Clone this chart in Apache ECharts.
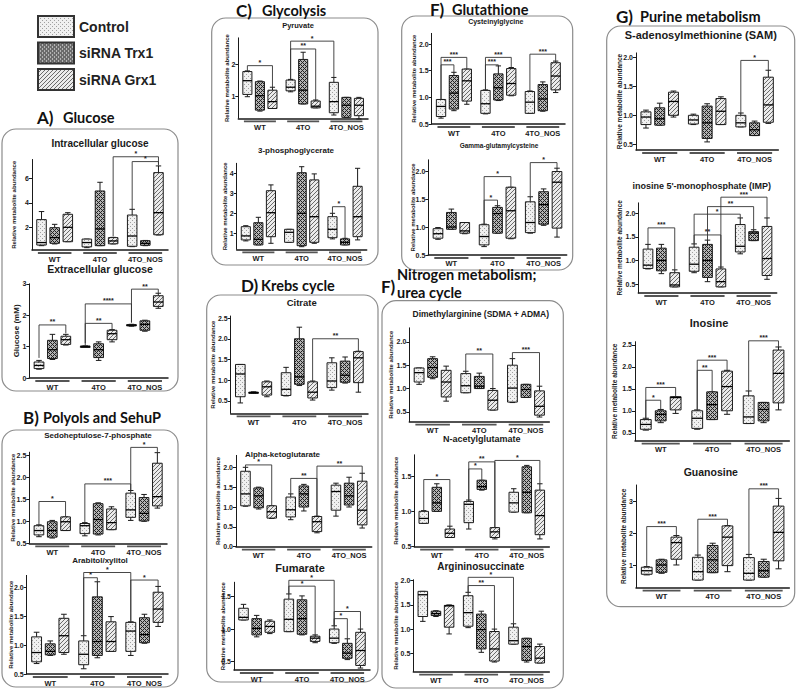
<!DOCTYPE html>
<html><head><meta charset="utf-8">
<script src="https://cdn.jsdelivr.net/npm/echarts@6/dist/echarts.min.js"></script>
<style>html,body{margin:0;padding:0;background:#fff}#c{width:796px;height:692px}</style>
</head><body><div id="c"></div>
<script>
// ---------------- DATA ----------------
const groups = ['WT', '4TO', '4TO_NOS'];
const treatments = ['Control', 'siRNA Trx1', 'siRNA Grx1'];
// rows: Control, siRNA Trx1, siRNA Grx1 ; each row: WT, 4TO, 4TO_NOS ; box = [min, q1, median, q3, max]
const intracellularGlucose = [
  [[0.55,0.6,0.8,2.65,3.3],[0.39,0.45,0.8,1.08,1.08],[0.47,0.5,1.33,3.02,3.48]],
  [[0.69,0.74,1.2,2.0,2.27],[0.55,0.55,1.9,4.96,5.66],[0.55,0.58,0.74,0.95,0.97]],
  [[0.87,0.87,2.03,3.08,3.21],[0.69,0.7,0.93,1.2,1.22],[1.41,1.43,3.21,6.44,6.98]]
];
const extracellularGlucose = [
  [[0.28,0.30,0.40,0.51,0.56],[0.99,1.0,1.01,1.01,1.02],[1.65,1.66,1.68,1.70,1.71]],
  [[0.59,0.62,0.9,1.2,1.39],[0.56,0.65,0.9,1.09,1.15],[1.49,1.52,1.71,1.82,1.84]],
  [[1.05,1.07,1.22,1.33,1.39],[1.15,1.22,1.41,1.52,1.54],[2.22,2.28,2.42,2.62,2.70]]
];
const sedoheptulose = [
  [[0.65,0.69,0.79,0.9,0.92],[0.67,0.72,0.9,0.95,0.97],[1.02,1.09,1.26,1.64,1.70]],
  [[0.62,0.64,0.79,0.99,1.02],[0.69,0.71,1.04,1.4,1.42],[1.0,1.01,1.18,1.54,1.61]],
  [[0.79,0.79,0.99,1.1,1.1],[0.81,0.81,0.97,1.28,1.33],[1.30,1.35,1.56,2.32,2.56]]
];
const arabitol = [
  [[0.68,0.71,0.87,1.14,1.22],[0.59,0.66,0.84,1.07,1.16],[0.82,0.89,1.24,1.39,1.40]],
  [[0.82,0.83,0.89,1.02,1.07],[0.78,0.82,1.06,1.83,2.09],[1.03,1.04,1.18,1.47,1.53]],
  [[0.84,0.87,1.16,1.46,1.53],[0.89,0.89,1.06,1.40,1.49],[1.32,1.39,1.62,1.91,2.01]]
];
const pyruvate = [
  [[1.0,1.07,1.49,1.77,1.79],[1.15,1.18,1.29,1.51,1.53],[0.44,0.51,0.85,1.44,1.59]],
  [[0.56,0.59,1.03,1.46,1.48],[0.78,0.78,1.2,2.14,2.36],[0.37,0.37,0.74,0.98,0.98]],
  [[0.64,0.64,0.85,1.2,1.29],[0.66,0.66,0.71,0.87,0.9],[0.32,0.42,0.74,0.95,0.98]]
];
const phosphoglycerate = [
  [[0.62,0.67,0.87,1.33,1.38],[0.55,0.55,1.05,1.2,1.2],[0.72,0.78,1.2,1.83,2.0]],
  [[0.42,0.42,0.7,1.53,1.8],[0.33,0.38,2.0,4.03,4.33],[0.42,0.42,0.55,0.72,0.75]],
  [[0.5,0.83,2.03,3.13,3.42],[0.5,0.55,1.83,3.67,3.97],[0.67,0.83,1.83,3.35,4.25]]
];
const citrate = [
  [[0.45,0.6,1.15,1.38,1.38],[0.62,0.63,0.78,1.18,1.31],[0.76,0.82,0.98,1.42,1.54]],
  [[0.68,0.69,0.7,0.71,0.72],[0.87,0.9,1.08,2.0,2.28],[0.93,0.95,1.12,1.46,1.56]],
  [[0.6,0.64,0.84,0.96,0.98],[0.52,0.57,0.71,0.96,0.98],[0.71,0.94,1.54,1.69,1.70]]
];
const alphaKetoglutarate = [
  [[1.02,1.03,1.33,1.9,2.0],[0.68,0.75,0.93,1.25,1.33],[0.77,0.92,1.39,1.55,1.6]],
  [[0.95,0.98,1.28,1.48,1.5],[0.9,1.0,1.33,1.53,1.57],[1.0,1.05,1.28,1.6,1.75]],
  [[0.71,0.72,0.88,1.03,1.03],[0.35,0.38,0.63,0.76,0.77],[0.47,0.55,0.92,1.65,1.85]]
];
const fumarate = [
  [[1.14,1.14,1.18,1.32,1.38],[0.96,0.96,1.15,1.46,1.54],[0.78,0.79,0.86,1.0,1.05]],
  [[0.88,0.91,1.01,1.16,1.21],[0.91,0.92,1.16,1.45,1.51],[0.53,0.55,0.63,0.78,0.85]],
  [[0.93,0.95,1.04,1.12,1.14],[0.79,0.81,0.86,0.89,0.91],[0.40,0.44,0.67,0.95,1.0]]
];
const cysteinylglycine = [
  [[0.61,0.64,0.83,0.96,0.96],[0.69,0.70,0.88,1.13,1.14],[0.70,0.70,0.91,1.11,1.12]],
  [[0.75,0.78,1.08,1.41,1.47],[0.94,0.95,1.18,1.44,1.59],[0.74,0.75,0.97,1.24,1.29]],
  [[0.87,0.93,1.31,1.53,1.53],[1.03,1.04,1.26,1.54,1.56],[1.09,1.14,1.4,1.65,1.68]]
];
const gammaGlutamylcysteine = [
  [[0.78,0.80,0.88,0.97,0.99],[0.65,0.68,0.83,1.04,1.05],[0.89,0.9,1.08,1.45,1.54]],
  [[0.96,0.96,1.0,1.26,1.32],[0.89,0.89,1.24,1.35,1.38],[1.03,1.05,1.4,1.63,1.68]],
  [[0.88,0.89,0.93,1.08,1.08],[0.79,0.8,1.29,1.71,1.71],[0.82,0.98,1.80,1.99,2.05]]
];
const dimethylarginine = [
  [[1.09,1.14,1.34,1.44,1.44],[0.91,0.91,1.06,1.32,1.37],[0.70,0.71,1.01,1.5,1.64]],
  [[1.21,1.24,1.45,1.64,1.68],[1.0,1.0,1.05,1.26,1.33],[0.81,0.81,0.98,1.09,1.09]],
  [[0.73,0.82,1.14,1.39,1.48],[0.54,0.54,0.75,0.96,1.0],[0.39,0.43,0.62,0.95,1.05]]
];
const nAcetylglutamate = [
  [[0.83,0.83,0.9,1.0,1.01],[0.75,0.84,1.1,1.14,1.16],[0.99,0.99,1.12,1.27,1.32]],
  [[1.0,1.0,1.12,1.34,1.39],[1.30,1.31,1.35,1.44,1.44],[0.98,0.98,1.27,1.63,1.65]],
  [[0.63,0.63,0.69,0.75,0.79],[0.61,0.63,0.71,0.77,0.77],[0.61,0.67,0.94,1.30,1.39]]
];
const argininosuccinate = [
  [[1.16,1.26,1.71,1.78,1.78],[1.03,1.06,1.34,1.69,1.76],[0.69,0.69,0.76,1.04,1.11]],
  [[1.26,1.28,1.32,1.37,1.38],[0.52,0.59,0.99,1.31,1.37],[0.32,0.35,0.64,0.81,0.81]],
  [[0.9,1.04,1.48,1.49,1.5],[0.32,0.34,0.59,0.95,1.0],[0.3,0.3,0.40,0.64,0.69]]
];
const sam = [
  [[0.78,0.84,0.97,1.06,1.09],[0.84,0.85,0.92,1.0,1.02],[0.8,0.8,0.87,1.0,1.04]],
  [[0.83,0.83,0.94,1.13,1.21],[0.54,0.6,0.87,1.16,1.2],[0.65,0.65,0.75,0.87,0.9]],
  [[0.97,1.0,1.24,1.40,1.42],[0.84,0.84,1.07,1.29,1.32],[0.86,0.88,1.18,1.66,1.78]]
];
const imp = [
  [[0.82,0.83,0.9,1.24,1.34],[0.74,0.77,0.92,1.28,1.35],[1.14,1.18,1.3,1.76,1.90]],
  [[0.72,0.78,1.0,1.26,1.34],[0.55,0.64,1.0,1.34,1.43],[1.42,1.42,1.58,1.61,1.65]],
  [[0.44,0.44,0.48,0.74,0.80],[0.44,0.44,0.55,0.82,0.86],[0.6,0.68,1.04,1.72,1.90]]
];
const inosine = [
  [[0.56,0.58,0.69,0.80,0.83],[0.58,0.6,0.83,1.0,1.02],[0.71,0.71,0.86,1.34,1.45]],
  [[0.73,0.77,0.92,1.0,1.03],[0.8,0.8,1.14,1.43,1.43],[0.73,0.77,1.03,1.19,1.19]],
  [[0.94,1.02,1.30,1.32,1.32],[0.92,1.0,1.55,1.9,1.92],[1.02,1.18,1.85,2.38,2.45]]
];
const guanosine = [
  [[0.71,0.73,0.84,0.95,0.97],[0.55,0.55,0.81,1.26,1.33],[0.55,0.55,0.76,1.25,1.35]],
  [[0.76,0.79,1.02,1.18,1.2],[0.78,0.78,1.18,1.63,1.7],[0.64,0.64,0.84,1.13,1.2]],
  [[1.02,1.2,1.72,1.89,1.94],[0.81,1.0,1.89,2.24,2.25],[0.9,1.15,2.04,2.86,3.1]]
];

// significance brackets: [group1, treatment1, group2, treatment2, top, leftEnd, rightEnd, label]
const intracellularGlucoseSig = [[1,2,2,2,7.72,1.3,7.1,'*'],[2,0,2,2,7.33,3.5,7.0,'*']];
const extracellularGlucoseSig = [[0,0,0,2,1.69,0.64,1.42,'**'],[1,0,1,2,1.74,1.11,1.56,'**'],[1,0,2,0,2.36,1.02,1.76,'****'],[2,0,2,2,2.83,1.78,2.70,'**']];
const sedoheptuloseSig = [[0,0,0,2,1.45,0.92,1.1,'*'],[1,0,2,0,1.85,0.97,1.70,'***'],[2,0,2,2,2.68,1.70,2.56,'*']];
const arabitolSig = [[1,0,2,0,2.25,1.16,1.40,'*'],[1,0,1,1,2.16,1.16,2.09,'*'],[2,0,2,2,2.12,1.40,2.01,'*']];
const pyruvateSig = [[0,0,0,2,1.95,1.79,1.29,'*'],[1,0,1,2,2.46,1.53,0.9,'**'],[1,0,2,0,2.70,1.53,1.59,'*']];
const phosphoglycerateSig = [[2,0,2,1,2.33,2.0,0.75,'*']];
const citrateSig = [[1,2,2,2,2.0,0.98,1.70,'**']];
const alphaKetoglutarateSig = [[0,0,0,2,2.06,2.0,1.03,'*'],[1,0,1,2,1.72,1.33,0.77,'**'],[1,2,2,2,2.03,0.77,1.85,'**']];
const fumarateSig = [[1,0,2,0,1.75,1.54,1.05,'*'],[1,0,1,2,1.66,1.54,0.91,'*'],[2,0,2,2,1.27,1.05,1.0,'*'],[2,0,2,1,1.16,1.05,0.85,'*']];
const cysteinylglycineSig = [[0,0,0,2,1.75,0.96,1.53,'***'],[0,0,0,1,1.61,0.96,1.47,'***'],[1,0,1,2,1.75,1.14,1.56,'***'],[1,0,1,1,1.61,1.14,1.59,'***'],[2,0,2,2,1.81,1.12,1.68,'***']];
const gammaGlutamylcysteineSig = [[1,0,1,2,1.90,1.05,1.71,'*'],[1,0,1,1,1.48,1.05,1.38,'*'],[2,0,2,2,2.15,1.54,2.05,'*']];
const dimethylarginineSig = [[1,0,1,2,1.74,1.37,1.0,'**'],[2,0,2,2,1.77,1.64,1.05,'***']];
const nAcetylglutamateSig = [[0,0,0,2,1.45,1.01,0.79,'*'],[1,0,1,1,1.60,1.16,1.44,'*'],[1,0,1,2,1.70,1.16,0.77,'**'],[1,2,2,2,1.72,0.77,1.39,'*']];
const argininosuccinateSig = [[1,0,1,2,1.90,1.76,1.0,'**'],[1,0,2,0,2.07,1.76,1.11,'*']];
const samSig = [[2,0,2,2,1.95,1.04,1.78,'*']];
const impSig = [[0,0,0,2,1.69,1.34,0.8,'***'],[1,0,1,2,1.54,1.35,0.86,'**'],[1,0,2,0,1.98,1.35,1.90,'*'],[1,1,2,1,2.14,1.43,1.65,'**'],[1,2,2,2,2.34,0.86,1.90,'***']];
const inosineSig = [[0,0,0,1,1.24,0.83,1.03,'*'],[0,0,0,2,1.53,0.83,1.32,'***'],[1,0,1,1,1.92,1.02,1.43,'**'],[1,0,1,2,2.15,1.02,1.92,'***'],[2,0,2,2,2.59,1.45,2.45,'***']];
const guanosineSig = [[0,0,0,2,2.22,0.97,1.94,'***'],[1,0,1,2,2.45,1.33,2.25,'***'],[2,0,2,2,3.40,1.35,3.10,'***']];

// y-axis tick labels
const ticksIntra = [2,4,6];
const ticksExtra = [0,1,2,3];
const ticksSedo = [0.5,1.0,1.5,2.0,2.5];
const ticksArab = [0.5,1.0,1.5,2.0];
const ticksPyr = [1,2];
const ticks3PG = [1,2,3,4];
const ticksCit = [0.5,1.0,1.5,2.0,2.5];
const ticksAKG = [0.0,0.5,1.0,1.5,2.0];
const ticksFum = [0.5,1.0,1.5];
const ticksCys = [0.5,1.0,1.5,2.0];
const ticksGGC = [0.5,1.0,1.5,2.0];
const ticksDMA = [0.5,1.0,1.5,2.0];
const ticksNAG = [0.5,1.0,1.5];
const ticksASA = [0.5,1.0,1.5,2.0];
const ticksSAM = [0.5,1.0,1.5,2.0];
const ticksIMP = [0.5,1.0,1.5,2.0];
const ticksIno = [0.5,1.0,1.5,2.0,2.5];
const ticksGua = [1,2,3];

// ---------------- LAYOUT ----------------
const REL = 'Relative metabolite abundance';
const panels = [
 {d:intracellularGlucose, s:intracellularGlucoseSig, t:ticksIntra, title:'Intracellular glucose', tx:100, ty:143.5, ts:10, x0:32, x1:168, bot:250, ppu:12.4, min:0.2, max:7.5, dec:0, yn:REL, gap:15, ns:6},
 {d:extracellularGlucose, s:extracellularGlucoseSig, t:ticksExtra, title:'Extracellular glucose', tx:100, ty:269, ts:10.5, x0:29.3, x1:168, bot:378, ppu:31.4, min:0, max:3, dec:0, yn:'Glucose (mM)', gap:9, ns:8},
 {d:sedoheptulose, s:sedoheptuloseSig, t:ticksSedo, title:'Sedoheptulose-7-phosphate', tx:98, ty:435, ts:8, x0:29.3, x1:167, bot:543.3, ppu:44, min:0.5, max:2.57, dec:1, yn:REL, gap:13, ns:6},
 {d:arabitol, s:arabitolSig, t:ticksArab, title:'Arabitol/xylitol', tx:100, ty:560, ts:8, x0:26.7, x1:168, bot:674, ppu:58, min:0.5, max:2.2, dec:1, yn:REL, gap:12.7, ns:6},
 {d:pyruvate, s:pyruvateSig, t:ticksPyr, title:'Pyruvate', tx:298, ty:25, ts:7.5, x0:238.3, x1:368, bot:118.3, ppu:32.7, min:0.34, max:2.8, dec:0, yn:REL, gap:8, ns:6},
 {d:phosphoglycerate, s:phosphoglycerateSig, t:ticks3PG, title:'3-phosphoglycerate', tx:296, ty:150, ts:8, x0:236.7, x1:366.7, bot:249.3, ppu:20, min:0.2, max:4.5, dec:0, yn:REL, gap:8.7, ns:6},
 {d:citrate, s:citrateSig, t:ticksCit, title:'Citrate', tx:301.7, ty:302.3, ts:9.5, x0:230.7, x1:368, bot:413.3, ppu:41.4, min:0.2, max:2.55, dec:1, yn:REL, gap:15, ns:6},
 {d:alphaKetoglutarate, s:alphaKetoglutarateSig, t:ticksAKG, title:'Alpha-ketoglutarate', tx:282.5, ty:454, ts:8, x0:236, x1:371.7, bot:546.7, ppu:39.7, min:0, max:2.3, dec:1, yn:REL, gap:14.7, ns:6},
 {d:fumarate, s:fumarateSig, t:ticksFum, title:'Fumarate', tx:300, ty:568.3, ts:11, x0:234, x1:370, bot:670, ppu:65, min:0.37, max:1.72, dec:1, yn:REL, gap:8.3, ns:6},
 {d:cysteinylglycine, s:cysteinylglycineSig, t:ticksCys, title:'Cysteinylglycine', tx:495.8, ty:21.5, ts:7, x0:431.7, x1:565, bot:124, ppu:53.3, min:0.5, max:2.2, dec:1, yn:REL, gap:14.4, ns:6},
 {d:gammaGlutamylcysteine, s:gammaGlutamylcysteineSig, t:ticksGGC, title:'Gamma-glutamylcysteine', tx:499, ty:145, ts:6.5, x0:428.3, x1:566.7, bot:255, ppu:56, min:0.5, max:2.2, dec:1, yn:REL, gap:12.6, ns:6, lm:4},
 {d:dimethylarginine, s:dimethylarginineSig, t:ticksDMA, title:'Dimethylarginine (SDMA + ADMA)', tx:480.8, ty:314, ts:8.5, x0:409.3, x1:549.3, bot:421.7, ppu:46.7, min:0.29, max:2.3, dec:1, yn:REL, gap:15.3, ns:6},
 {d:nAcetylglutamate, s:nAcetylglutamateSig, t:ticksNAG, title:'N-acetylglutamate', tx:481.7, ty:439.3, ts:9, x0:414.3, x1:549.3, bot:546.7, ppu:70.7, min:0.5, max:1.8, dec:1, yn:REL, gap:15.3, ns:6},
 {d:argininosuccinate, s:argininosuccinateSig, t:ticksASA, title:'Argininosuccinate', tx:480.8, ty:566.5, ts:10, x0:413.3, x1:549.3, bot:671.7, ppu:48.4, min:0.12, max:2.02, dec:1, yn:REL, gap:14.3, ns:6},
 {d:sam, s:samSig, t:ticksSAM, title:'S-adenosylmethionine (SAM)', tx:700.8, ty:35, ts:11, x0:636, x1:778.3, bot:150, ppu:57.8, min:0.4, max:2.08, dec:1, yn:REL, gap:12.7, ns:6.5},
 {d:imp, s:impSig, t:ticksIMP, title:"inosine 5'-monophosphate (IMP)", tx:701.7, ty:185.5, ts:9, x0:638.3, x1:776.7, bot:293, ppu:47.2, min:0.31, max:2.22, dec:1, yn:REL, gap:15, ns:6.5},
 {d:inosine, s:inosineSig, t:ticksIno, title:'Inosine', tx:709, ty:323.3, ts:11, x0:635, x1:789.3, bot:440.7, ppu:44, min:0.32, max:2.57, dec:1, yn:REL, gap:16.7, ns:6.5},
 {d:guanosine, s:guanosineSig, t:ticksGua, title:'Guanosine', tx:710.8, ty:471.7, ts:10.5, x0:636, x1:789.3, bot:587.7, ppu:32, min:0.31, max:3.52, dec:0, yn:REL, gap:9.3, ns:6.5}
];
const headings = [
 {x:37, y:117, letter:'A)', lines:[{t:'Glucose', x:63, y:117}]},
 {x:23, y:417, letter:'B)', lines:[{t:'Polyols and SehuP', x:43, y:417}]},
 {x:236, y:10.5, letter:'C)', lines:[{t:'Glycolysis', x:262, y:10.5}]},
 {x:241, y:285.5, letter:'D)', lines:[{t:'Krebs cycle', x:261, y:285.5}]},
 {x:430, y:9, letter:'F)', lines:[{t:'Glutathione', x:452, y:9}]},
 {x:381, y:286, letter:'F)', lines:[{t:'Nitrogen metabolism;', x:397, y:274.5}, {t:'urea cycle', x:397, y:292.5}]},
 {x:616, y:16.5, letter:'G)', lines:[{t:'Purine metabolism', x:640, y:16.5}]}
];
const frames = [[2,129,176,262],[2,430,176,257],[211.7,18,166.3,247],[206.7,295,171.3,387],[401.7,16,171,254],[382,300.7,181.3,387.3],[606.7,26,188,580.7]];

const SLOT = 0.29, BOXW = 0.21, CAPW = 0.12;
const INK = '#1a1a1a';
const FONT = '"Liberation Sans", Arial, sans-serif';
const HFONT = 'Lato, "Liberation Sans", sans-serif';

function makePattern(kind){
  const n = 4;
  const c = document.createElement('canvas'); c.width = n; c.height = n;
  const ctx = c.getContext('2d');
  if (kind === 0) {
    ctx.fillStyle = '#f0f0f0'; ctx.fillRect(0,0,n,n);
    ctx.fillStyle = '#a0a0a0'; ctx.fillRect(0,0,1,1); ctx.fillRect(2,2,1,1);
  } else if (kind === 1) {
    ctx.fillStyle = '#b4b4b4'; ctx.fillRect(0,0,n,n);
    ctx.fillStyle = '#222';
    for (let x=0;x<n;x++) for (let y=0;y<n;y++) if ((x+y)%4===0 || ((x-y)%4+4)%4===0) ctx.fillRect(x,y,1,1);
  } else {
    ctx.fillStyle = '#ebebeb'; ctx.fillRect(0,0,n,n);
    ctx.fillStyle = '#6a6a6a';
    for (let x=0;x<n;x++) for (let y=0;y<n;y++) if ((x+y)%4===3) ctx.fillRect(x,y,1,1);
  }
  return {image: c, repeat: 'repeat', imageWidth: n, imageHeight: n};
}
const PAT = [makePattern(0), makePattern(1), makePattern(2)];

function boxRender(t){
  return function(params, api){
    const g = api.value(0);
    const bw = api.size([1,0])[0];
    const cx = api.coord([g,0])[0] + (t-1)*SLOT*bw;
    const w = BOXW*bw, cap = CAPW*bw;
    const Y = i => api.coord([g, api.value(i)])[1];
    const yMin=Y(1), yQ1=Y(2), yMed=Y(3), yQ3=Y(4), yMax=Y(5);
    const ls = {stroke: INK, lineWidth: 1};
    return {type:'group', children:[
      {type:'line', shape:{x1:cx,y1:yQ3,x2:cx,y2:yMax}, style:ls},
      {type:'line', shape:{x1:cx-cap/2,y1:yMax,x2:cx+cap/2,y2:yMax}, style:ls},
      {type:'line', shape:{x1:cx,y1:yQ1,x2:cx,y2:yMin}, style:ls},
      {type:'line', shape:{x1:cx-cap/2,y1:yMin,x2:cx+cap/2,y2:yMin}, style:ls},
      {type:'rect', shape:{x:cx-w/2,y:yQ3,width:w,height:Math.max(yQ1-yQ3,1.2)}, style:{fill:PAT[t], stroke:INK, lineWidth:1}},
      {type:'line', shape:{x1:cx-w/2,y1:yMed,x2:cx+w/2,y2:yMed}, style:{stroke:'#000', lineWidth:1.3}}
    ]};
  };
}
function sigRender(sig){
  return function(params, api){
    const r = sig[params.dataIndex];
    const bw = api.size([1,0])[0];
    const px = (g,t) => api.coord([g,0])[0] + (t-1)*SLOT*bw;
    const x1 = px(r[0],r[1]), x2 = px(r[2],r[3]);
    const yT = api.coord([0,r[4]])[1], yL = api.coord([0,r[5]])[1], yR = api.coord([0,r[6]])[1];
    return {type:'group', children:[
      {type:'polyline', shape:{points:[[x1,yL],[x1,yT],[x2,yT],[x2,yR]]}, style:{fill:null, stroke:'#333', lineWidth:0.9}},
      {type:'text', x:(x1+x2)/2, y:yT+0.5, style:{text:r[7], align:'center', verticalAlign:'bottom', fontSize:7, fontWeight:'bold', fill:'#222', fontFamily:FONT}}
    ]};
  };
}
function underlineRender(params, api){
  const g = api.value(0);
  const bw = api.size([1,0])[0];
  const cx = api.coord([g,0])[0];
  const cs = params.coordSys;
  const y = cs.y + cs.height + 3;
  return {type:'line', shape:{x1:cx-0.37*bw, y1:y, x2:cx+0.37*bw, y2:y}, style:{stroke:'#555', lineWidth:1.8}};
}

const grid=[], xAxis=[], yAxis=[], series=[], graphic=[];
panels.forEach((p,i)=>{
  const top = p.bot - (p.max - p.min)*p.ppu;
  grid.push({left:p.x0, top:top, width:p.x1-p.x0, height:p.bot-top, containLabel:false, outerBoundsMode:'none'});
  xAxis.push({gridIndex:i, type:'category', data:groups, boundaryGap:true,
    axisLine:{show:true, lineStyle:{color:INK, width:1.5}}, axisTick:{show:false},
    axisLabel:{interval:0, fontSize:7.5, fontWeight:'bold', color:INK, margin:p.lm||5, fontFamily:FONT}, splitLine:{show:false}});
  yAxis.push({gridIndex:i, type:'value', min:p.min, max:p.max,
    axisLine:{show:true, lineStyle:{color:INK, width:1}},
    axisTick:{show:true, length:3, customValues:p.t, lineStyle:{color:INK}},
    axisLabel:{customValues:p.t, formatter:v=>Number(v).toFixed(p.dec), fontSize:7, fontWeight:'bold', color:INK, margin:3, fontFamily:FONT},
    splitLine:{show:false},
    name:p.yn, nameLocation:'middle', nameGap:p.gap, nameMoveOverlap:false,
    nameTextStyle:{fontSize:p.ns, fontWeight:'bold', color:INK, fontFamily:FONT}});
  treatments.forEach((tn,t)=>{
    series.push({type:'custom', name:tn, xAxisIndex:i, yAxisIndex:i, clip:false,
      itemStyle:{color:PAT[t], borderColor:INK, borderWidth:1},
      encode:{x:0, y:[1,2,3,4,5]},
      data:p.d[t].map((b,g)=>[g].concat(b)),
      renderItem:boxRender(t), z:3});
  });
  series.push({type:'custom', name:'sig'+i, xAxisIndex:i, yAxisIndex:i, clip:false, silent:true,
    encode:{x:0, y:4}, data:p.s.map(r=>r.slice(0,7)), renderItem:sigRender(p.s), z:4});
  series.push({type:'custom', name:'grp'+i, xAxisIndex:i, yAxisIndex:i, clip:false, silent:true,
    encode:{x:0}, data:groups.map((g,k)=>[k]), renderItem:underlineRender, z:2});
  graphic.push({type:'text', x:p.tx, y:p.ty, style:{text:p.title, align:'center', verticalAlign:'middle', fontSize:p.ts, fontWeight:'bold', fill:INK, fontFamily:FONT}});
});
frames.forEach(f=>graphic.push({type:'rect', shape:{x:f[0], y:f[1], width:f[2], height:f[3], r:14}, style:{fill:'none', stroke:'#8c8c8c', lineWidth:1.2}, z:-1}));
headings.forEach(h=>{
  graphic.push({type:'text', x:h.x, y:h.y, style:{text:h.letter, align:'left', verticalAlign:'middle', fontSize:17, fontWeight:'bold', fill:'#111', fontFamily:HFONT}});
  h.lines.forEach(l=>graphic.push({type:'text', x:l.x, y:l.y, style:{text:l.t, align:'left', verticalAlign:'middle', fontSize:14.5, fontWeight:'bold', fill:'#111', fontFamily:HFONT}}));
});

const chart = echarts.init(document.getElementById('c'), null, {renderer:'svg', width:796, height:692});
chart.setOption({
  animation:false,
  backgroundColor:'#fff',
  textStyle:{fontFamily:FONT},
  legend:{data:treatments, orient:'vertical', left:37, top:15, padding:0, itemWidth:36, itemHeight:21, itemGap:3.5, icon:'rect',
    itemStyle:{borderColor:'#333', borderWidth:2}, textStyle:{fontSize:14, fontWeight:'bold', color:'#222', fontFamily:FONT}, selectedMode:false},
  grid, xAxis, yAxis, series, graphic
});
</script></body></html>
